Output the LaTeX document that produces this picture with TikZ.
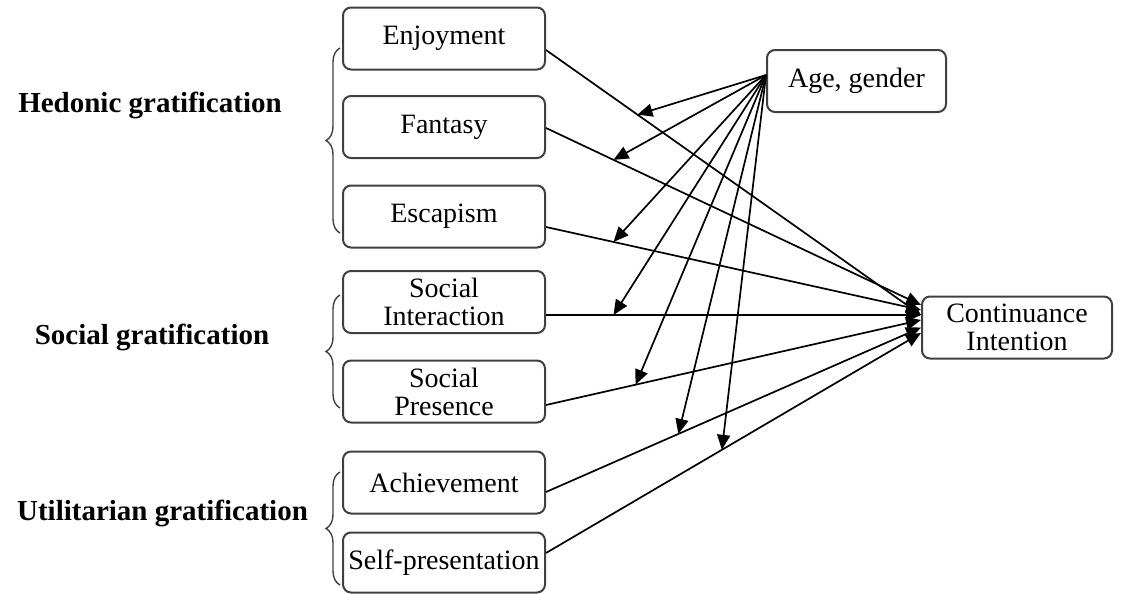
\documentclass[tikz,border=0pt]{standalone}
\usepackage{fontspec}
\setmainfont{Liberation Serif}
\usetikzlibrary{arrows.meta,decorations.pathreplacing,calc}
\begin{document}
\begin{tikzpicture}[x=0.5pt,y=-0.5pt,
  box/.style={draw=black!75, line width=1pt, rounded corners=4pt, minimum width=101pt,
    minimum height=31pt, align=center, inner sep=1pt, font=\fontsize{14}{14}\selectfont},
  grp/.style={font=\bfseries\fontsize{14.5}{16}\selectfont, inner sep=0pt},
  link/.style={line width=0.85pt, -{Triangle[length=7.5pt,width=6.5pt]}},
  brc/.style={draw=black!75, line width=0.7pt, decorate, decoration={brace, amplitude=7pt}}]
\useasboundingbox (0,0) rectangle (1124,594);

% left boxes
\node[box] (enj)  at (444,38.5)  {Enjoyment};
\node[box] (fan)  at (444,127)   {Fantasy};
\node[box] (esc)  at (444,216.5) {Escapism};
\node[box] (si)   at (444,302)   {Social\\Interaction};
\node[box] (sp)   at (444,391.5) {Social\\Presence};
\node[box] (ach)  at (444,482.5) {Achievement};
\node[box, minimum height=30pt] (self) at (444,562.5) {Self-presentation};

% right boxes
\node[box, minimum width=89.5pt] (age) at (856.5,81) {Age, gender};
\node[box, minimum width=95pt] (ci) at (1017,327.5) {Continuance\\Intention};

% group labels
\node[grp] (hed) at (150,105)   {Hedonic gratification};
\node[grp] (soc) at (152,337)   {Social gratification};
\node[grp] (uti) at (162.5,513) {Utilitarian gratification};

% braces
\draw[brc] (340,233) -- (340,48);
\draw[brc] (340,408) -- (340,295);
\draw[brc] (340,585) -- (340,472);

% links to continuance intention
\draw[link] ([yshift=-5.75pt]enj.east) -- coordinate[pos=0.244] (m1) ([yshift=6.25pt]ci.west);
\draw[link] ([yshift=-0.5pt]fan.east)  -- coordinate[pos=0.18]  (m2) ([yshift=11.25pt]ci.west);
\draw[link] ([yshift=-5.25pt]esc.east) -- coordinate[pos=0.18]  (m3) ([yshift=8.75pt]ci.west);
\draw[link] ([yshift=-6.5pt]si.east)   -- coordinate[pos=0.18]  (m4) ([yshift=6.25pt]ci.west);
\draw[link] ([yshift=-6.75pt]sp.east)  -- coordinate[pos=0.239] (m5) ([yshift=3.75pt]ci.west);
\draw[link] ([yshift=-4.75pt]ach.east) -- coordinate[pos=0.353] (m6) ([yshift=0pt]ci.west);
\draw[link] ([yshift=4.75pt]self.east) -- coordinate[pos=0.469] (m7) ([yshift=-2.75pt]ci.west);

% moderator links
\coordinate (ao) at ([yshift=3pt]age.west);
\foreach \m in {m1,m2,m3,m4,m5,m6,m7}
  \draw[link] (ao) -- (\m);
\end{tikzpicture}
\end{document}
